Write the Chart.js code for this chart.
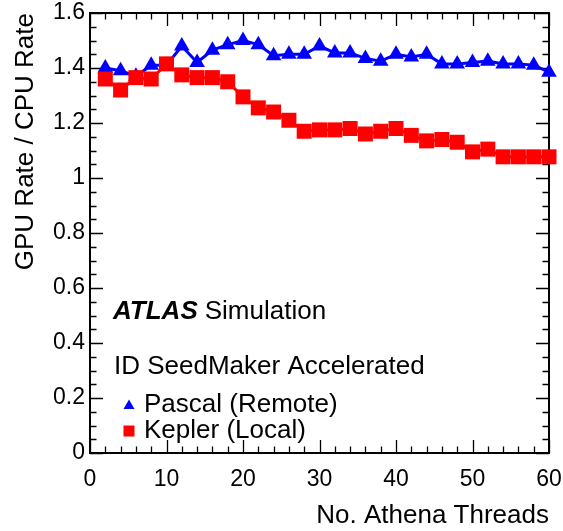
<html>

<head>
    <meta charset="utf-8">
    <title>GPU / CPU rate</title>
    <script src="https://cdn.jsdelivr.net/npm/chart.js@4.4.1/dist/chart.umd.min.js"></script>
    <style>
        body { margin: 0; background: #fff; }
    </style>
</head>

<body>
    <canvas id="myChart" width="563" height="531"></canvas>
    <script>
        // values
        const threads = [2, 4, 6, 8, 10, 12, 14, 16, 18, 20, 22, 24, 26, 28, 30,
            32, 34, 36, 38, 40, 42, 44, 46, 48, 50, 52, 54, 56, 58, 60];
        const pascal = [1.40, 1.39, 1.37, 1.41, 1.41, 1.48, 1.42, 1.465, 1.485, 1.50,
            1.485, 1.445, 1.45, 1.45, 1.48, 1.455, 1.455, 1.435, 1.425, 1.45,
            1.44, 1.45, 1.415, 1.415, 1.42, 1.425, 1.415, 1.415, 1.41, 1.385];
        const kepler = [1.36, 1.32, 1.365, 1.36, 1.415, 1.375, 1.365, 1.365, 1.35, 1.295,
            1.255, 1.24, 1.21, 1.17, 1.175, 1.175, 1.18, 1.16, 1.17, 1.18,
            1.155, 1.135, 1.14, 1.13, 1.095, 1.105, 1.077, 1.077, 1.077, 1.077];
        const seriesNames = ['Pascal (Remote)', 'Kepler (Local)'];

        const FONT = "'Liberation Sans', Arial, Helvetica, sans-serif";
        Chart.defaults.font.family = FONT;
        Chart.defaults.color = '#000';

        const toPoints = ys => threads.map((t, i) => ({ x: t, y: ys[i] }));

        // ROOT style frame with inside ticks + the text box
        const atlasFrame = {
            id: 'atlasFrame',
            beforeDatasetsDraw(chart) {
                const ctx = chart.ctx;
                const a = chart.chartArea;
                const xs = chart.scales.x, ys = chart.scales.y;
                ctx.save();
                ctx.strokeStyle = '#000';
                ctx.lineWidth = 1.3;
                ctx.beginPath();
                for (let v = 0; v <= 60.001; v += 2) {
                    const px = Math.round(xs.getPixelForValue(v)) + 0.5;
                    const len = (v % 10 === 0) ? 13 : 6.5;
                    ctx.moveTo(px, a.bottom); ctx.lineTo(px, a.bottom - len);
                    ctx.moveTo(px, a.top); ctx.lineTo(px, a.top + len);
                }
                for (let k = 0; k <= 32; k++) {
                    const py = Math.round(ys.getPixelForValue(k * 0.05)) + 0.5;
                    const len = (k % 4 === 0) ? 13 : 6.5;
                    ctx.moveTo(a.left, py); ctx.lineTo(a.left + len, py);
                    ctx.moveTo(a.right, py); ctx.lineTo(a.right - len, py);
                }
                ctx.stroke();
                ctx.lineWidth = 2;
                ctx.strokeRect(a.left, a.top, a.right - a.left, a.bottom - a.top);
                ctx.restore();
            },
            afterDraw(chart) {
                const ctx = chart.ctx;
                ctx.save();
                ctx.fillStyle = '#000';
                ctx.textBaseline = 'middle';
                ctx.textAlign = 'left';
                ctx.font = 'italic bold 26px ' + FONT;
                ctx.fillText('ATLAS', 113, 312);
                const w = ctx.measureText('ATLAS').width;
                ctx.font = '26px ' + FONT;
                ctx.fillText('Simulation', 113 + w + 7, 312);
                ctx.fillText('ID SeedMaker Accelerated', 114, 367);
                ctx.fillText(seriesNames[0], 144, 405);
                ctx.fillText(seriesNames[1], 144, 431);
                // legend markers
                ctx.fillStyle = '#0000ff';
                ctx.beginPath();
                ctx.moveTo(129, 399.5); ctx.lineTo(134.5, 409); ctx.lineTo(123.5, 409);
                ctx.closePath(); ctx.fill();
                ctx.fillStyle = '#ff0000';
                ctx.fillRect(123.5, 425.5, 11, 11);
                ctx.restore();
            }
        };

        const ctx = document.getElementById('myChart');
        const config = {
            type: 'line',
            data: {
                datasets: [
                    {
                        label: seriesNames[1],
                        data: toPoints(kepler),
                        borderColor: '#ff0000',
                        backgroundColor: '#ff0000',
                        borderWidth: 3,
                        pointStyle: 'rect',
                        pointRadius: 10.6,
                        pointBorderWidth: 0,
                        tension: 0,
                        clip: false
                    },
                    {
                        label: seriesNames[0],
                        data: toPoints(pascal),
                        borderColor: '#0000ff',
                        backgroundColor: '#0000ff',
                        borderWidth: 3,
                        pointStyle: 'triangle',
                        pointRadius: 9,
                        pointBorderWidth: 0,
                        tension: 0,
                        clip: false
                    }
                ]
            },
            options: {
                responsive: false,
                animation: false,
                events: [],
                layout: { padding: { top: 13, right: 14, left: 0, bottom: 0 } },
                plugins: {
                    legend: { display: false },
                    tooltip: { enabled: false }
                },
                scales: {
                    x: {
                        type: 'linear',
                        min: 0,
                        max: 60,
                        grid: { display: false, drawTicks: false },
                        border: { display: false },
                        ticks: { stepSize: 10, padding: 13, font: { size: 23 } },
                        title: {
                            display: true,
                            text: 'No. Athena Threads',
                            align: 'end',
                            font: { size: 26 },
                            padding: { top: 0, bottom: 0 }
                        },
                        afterFit(s) {
                            s.height = 78;
                            s.paddingLeft = 0; s.paddingRight = 0;
                        }
                    },
                    y: {
                        min: 0,
                        max: 1.6,
                        grid: { display: false, drawTicks: false },
                        border: { display: false },
                        ticks: {
                            stepSize: 0.2, padding: 5, font: { size: 23 },
                            callback: v => String(parseFloat(v.toFixed(2)))
                        },
                        title: {
                            display: true,
                            text: 'GPU Rate / CPU Rate',
                            align: 'end',
                            font: { size: 26 },
                            padding: { top: 10, bottom: 0 }
                        },
                        afterFit(s) {
                            s.width = 90;
                            s.paddingTop = 0; s.paddingBottom = 0;
                        }
                    }
                }
            },
            plugins: [atlasFrame]
        };
        const myChart = new Chart(ctx, config);
    </script>
</body>

</html>
